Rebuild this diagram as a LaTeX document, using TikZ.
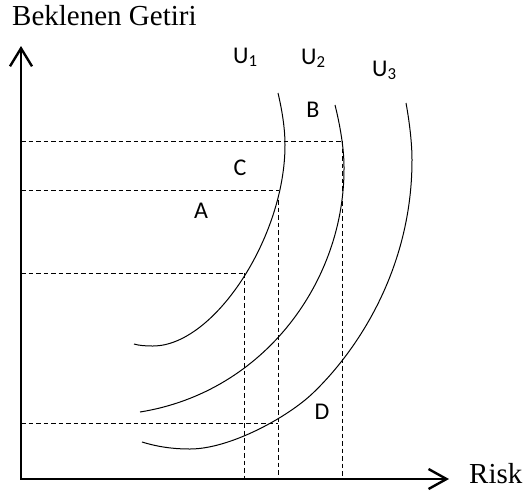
\documentclass[tikz,border=0pt]{standalone}
\usepackage{fontspec}
\setmainfont{Liberation Serif}
\newfontfamily\lblfont{Carlito}
\usetikzlibrary{arrows.meta}
\tikzset{
  axisline/.style={line width=2.4pt, {Straight Barb[length=18pt,width=22pt]}-{Straight Barb[length=18pt,width=20pt]}},
  curve/.style={line width=1pt},
  guide/.style={line width=0.9pt, dash pattern=on 4.5pt off 3pt},
  axislabel/.style={font=\fontsize{29}{31}\selectfont, inner sep=0pt, anchor=base west},
  ptlabel/.style={font=\lblfont\fontsize{24}{26}\selectfont, inner sep=0pt},
}
\begin{document}
\begin{tikzpicture}[x=1pt, y=-1pt]
\useasboundingbox (0,0) rectangle (524,496);
% axes
\coordinate (O) at (21,479);
\coordinate (ytip) at (21,46);
\coordinate (xtip) at (449,479);
\draw[axisline] (ytip) -- (O) -- (xtip);
\node[axislabel] (ylab) at (12,25) {Beklenen Getiri};
\node[axislabel] (xlab) at (469,483) {Risk};
% guide lines
\coordinate (h1a) at (21,141);  \coordinate (h1b) at (342,141);
\coordinate (h2a) at (21,190);  \coordinate (h2b) at (279,190);
\coordinate (h3a) at (21,273);  \coordinate (h3b) at (244,273);
\coordinate (h4a) at (21,423);  \coordinate (h4b) at (278,423);
\coordinate (v1a) at (244,273); \coordinate (v1b) at (244,479);
\coordinate (v2a) at (278,200); \coordinate (v2b) at (278,479);
\coordinate (v3a) at (342,141); \coordinate (v3b) at (342,479);
\draw[guide] (h1a) -- (h1b);
\draw[guide] (h2a) -- (h2b);
\draw[guide] (h3a) -- (h3b);
\draw[guide] (h4a) -- (h4b);
\draw[guide] (v1a) -- (v1b);
\draw[guide] (v2a) -- (v2b);
\draw[guide] (v3a) -- (v3b);
% indifference curves
\draw[curve] (278,93) .. controls (282,110) and (285,128) .. (285,145)
  .. controls (285,237.5) and (213.7,346) .. (153,346)
  .. controls (145,346) and (139,345.5) .. (134,344);
\draw[curve] (335,105) .. controls (340,125) and (344,148) .. (344,167)
  .. controls (345,280) and (265,392) .. (140,412);
\draw[curve] (406,103) .. controls (410,125) and (412,145) .. (412,160)
  .. controls (412,270) and (356.2,351.6) .. (313,393)
  .. controls (287.8,417.2) and (230,449) .. (190,449)
  .. controls (170,449) and (155,446) .. (142,442);
% labels
\node[ptlabel, anchor=base west] (u1) at (233,63) {U\textsubscript{1}};
\node[ptlabel, anchor=base west] (u2) at (301,64) {U\textsubscript{2}};
\node[ptlabel, anchor=base west] (u3) at (372,76) {U\textsubscript{3}};
\node[ptlabel] (B) at (313,110) {B};
\node[ptlabel] (C) at (240,168) {C};
\node[ptlabel] (A) at (201,211) {A};
\node[ptlabel] (D) at (322,412) {D};
\end{tikzpicture}
\end{document}
